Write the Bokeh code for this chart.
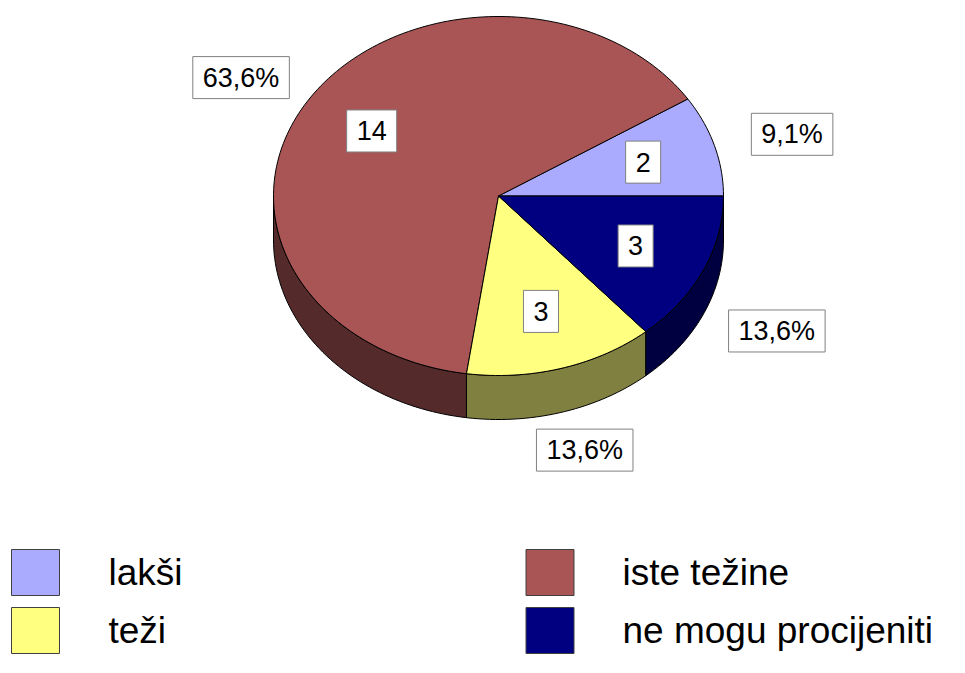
import numpy as np
from bokeh.plotting import figure
from bokeh.models import Range1d
from bokeh.core.properties import value
from bokeh.embed import file_html
from bokeh.resources import INLINE

# ---- data ----
categories = ["lakši", "iste težine", "teži", "ne mogu procijeniti"]
counts = [2, 14, 3, 3]
top_colors = ["#AAAAFF", "#AA5555", "#FFFF80", "#000080"]
side_colors = ["#5555AA", "#552A2A", "#808040", "#000040"]

# ---- layout (pixel units) ----
W, H = 949, 657
CX, CY = 498, 195.5
RX, RY = 225, 179.5
DEPTH = 44
FONT = value("Liberation Sans")
LBL_SIZE = 27

p = figure(width=W, height=H, output_backend="svg", toolbar_location=None,
           x_range=Range1d(0, W), y_range=Range1d(H, 0), min_border=0)
p.axis.visible = False
p.grid.visible = False
p.outline_line_color = None
p.background_fill_color = "white"

total = sum(counts)
fracs = [c / total for c in counts]
ends = np.cumsum(fracs) * 2 * np.pi
starts = np.concatenate([[0], ends[:-1]])


def arc(a, b, n=120):
    t = np.linspace(a, b, max(int(n * (b - a) / np.pi) + 2, 3))
    return CX + RX * np.cos(t), CY - RY * np.sin(t)

# sides (front half only)
sx, sy, sc = [], [], []
for a, b, col in zip(starts, ends, side_colors):
    lo, hi = max(a, np.pi), min(b, 2 * np.pi)
    if lo < hi:
        x, y = arc(lo, hi)
        sx.append(list(x) + list(x[::-1]))
        sy.append(list(y) + list((y + DEPTH)[::-1]))
        sc.append(col)
p.patches(sx, sy, fill_color=sc, line_color="black", line_width=1)

# top faces
tx, ty = [], []
for a, b in zip(starts, ends):
    x, y = arc(a, b)
    tx.append([CX] + list(x))
    ty.append([CY] + list(y))
p.patches(tx, ty, fill_color=top_colors, line_color="black", line_width=1)

# approximate text widths (Arial/Liberation metrics, em units)
CW = {",": 0.278, "%": 0.889}


def text_w(s):
    return sum(CW.get(ch, 0.556) for ch in s) * LBL_SIZE


def boxed_labels(xs, ys, texts):
    widths = [text_w(t) + 20 for t in texts]
    p.rect(xs, ys, width=widths, height=42, fill_color="white",
           line_color="#808080", line_width=1)
    p.text(xs, ys, text=texts, text_font=FONT, text_font_size=f"{LBL_SIZE}px",
           text_align="center", text_baseline="middle", text_color="black")

mids = (starts + ends) / 2

# value labels inside slices
val_x = CX + 0.67 * RX * np.cos(mids)
val_y = CY - 0.67 * RY * np.sin(mids)
boxed_labels(list(val_x), list(val_y), [str(c) for c in counts])

# percentage labels outside
pct = [f"{100 * f:.1f}".replace(".", ",") + "%" for f in fracs]
pct_x = CX + 1.36 * RX * np.cos(mids)
pct_y = CY - 1.22 * RY * np.sin(mids) + np.where(np.sin(mids) < 0, DEPTH, 0)
boxed_labels(list(pct_x), list(pct_y), pct)

# legend (2 columns: lakši, iste težine / teži, ne mogu procijeniti)
col_idx = [0, 1, 0, 1]
row_idx = [0, 0, 1, 1]
leg_sq_x = [35 + 514.5 * c for c in col_idx]
leg_sq_y = [572 + 58 * r for r in row_idx]
p.rect(leg_sq_x, leg_sq_y, width=48, height=46, fill_color=top_colors,
       line_color="#404040", line_width=1)
leg_tx = [108 + 514 * c for c in col_idx]
p.text(leg_tx, leg_sq_y, text=categories, text_font=FONT, text_font_size="37px",
       text_align="left", text_baseline="middle", text_color="black")

open("out.html", "w").write(file_html(p, INLINE))
